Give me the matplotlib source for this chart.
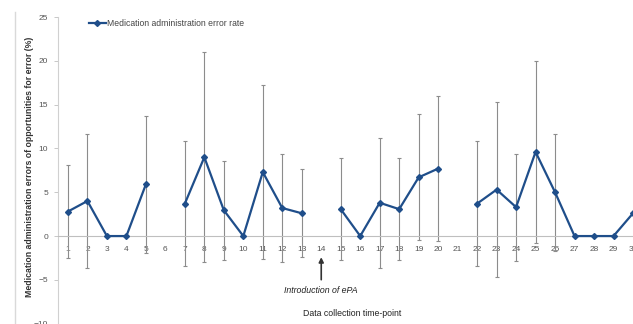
import numpy as np
import matplotlib
matplotlib.use("Agg")
import matplotlib.pyplot as plt
from matplotlib.lines import Line2D

plt.rcParams['font.family'] = ['Liberation Sans', 'DejaVu Sans']

# data collection time-points and error rates (%), nan = no data
timepoints = list(range(1, 31))
error_rate = [2.8, 4.0, 0.0, 0.0, 5.9, np.nan, 3.7, 9.0, 2.95, 0.0,
              7.3, 3.2, 2.6, np.nan, 3.07, 0.0, 3.8, 3.07, 6.7, 7.7,
              np.nan, 3.7, 5.3, 3.3, 9.6, 5.0, 0.0, 0.0, 0.0, 2.6]
error_sd = [5.3, 7.7, 0.0, 0.0, 7.85, np.nan, 7.1, 12.0, 5.65, 0.0,
            9.9, 6.2, 5.0, np.nan, 5.8, 0.0, 7.4, 5.8, 7.2, 8.3,
            np.nan, 7.1, 10.0, 6.1, 10.4, 6.7, 0.0, 0.0, 0.0, 0.0]
tick_labels = [str(t) for t in timepoints]
y_ticks = [-10, -5, 0, 5, 10, 15, 20, 25]

fig = plt.figure(figsize=(6.33, 3.24), dpi=100)
ax = fig.add_axes([58 / 633, 0.001, 1 - 58 / 633, 0.9465])

blue = '#1f4e8a'
grey = '#8c8c8c'

# error bars (only where there is an sd)
x = np.array(timepoints, dtype=float)
y = np.array(error_rate)
sd = np.array(error_sd)
has_bar = ~np.isnan(sd) & (sd > 0)
ax.errorbar(x[has_bar], y[has_bar], yerr=sd[has_bar], fmt='none',
            ecolor=grey, elinewidth=0.8, capsize=1.5, capthick=0.8, zorder=2)

ax.plot(x, y, color=blue, lw=1.6, marker='D', markersize=3.0,
        label='Medication administration error rate', zorder=3)

ax.set_xlim(0.49, 29.92)
ax.set_ylim(-10, 25)
ax.set_xticks(timepoints)
ax.set_xticklabels(tick_labels)
ax.set_yticks(y_ticks)

for s in ['top', 'right']:
    ax.spines[s].set_visible(False)
ax.spines['bottom'].set_position(('data', 0))
ax.spines['bottom'].set_color('#bfbfbf')
ax.spines['left'].set_color('#d0d0d0')
ax.tick_params(axis='x', length=0, pad=7, labelsize=6, labelcolor='#555555')
ax.tick_params(axis='y', length=3, width=0.6, color='#bfbfbf', pad=4,
               labelsize=6, labelcolor='#555555')

ax.legend(loc='upper left', bbox_to_anchor=(0.04, 1.02), frameon=False,
          fontsize=6.2, handlelength=2.0, handletextpad=0.1,
          labelcolor='#444444')

# introduction of ePA
ax.annotate('', xy=(14, -2.1), xytext=(14, -5.3),
            arrowprops=dict(arrowstyle='-|>', color='#333333', lw=1.2,
                            mutation_scale=7))
ax.text(14, -6.25, 'Introduction of ePA', style='italic', fontsize=6.3,
        ha='center', va='center', color='#222222')
ax.text(15.6, -8.8, 'Data collection time-point', fontsize=6.3,
        ha='center', va='center', color='#222222')

ax.set_ylabel('Medication administration errors of opportunities for error (%)',
              fontsize=6.3, color='#333333', fontweight='bold')
ax.yaxis.set_label_coords(-24 / 575, 0.5 + 4 / 307)

# chart border on the far left
fig.add_artist(Line2D([15 / 633, 15 / 633], [0, 1 - 12 / 324],
                      color='#d9d9d9', lw=1.0))

fig.savefig('out.png', dpi=100)
